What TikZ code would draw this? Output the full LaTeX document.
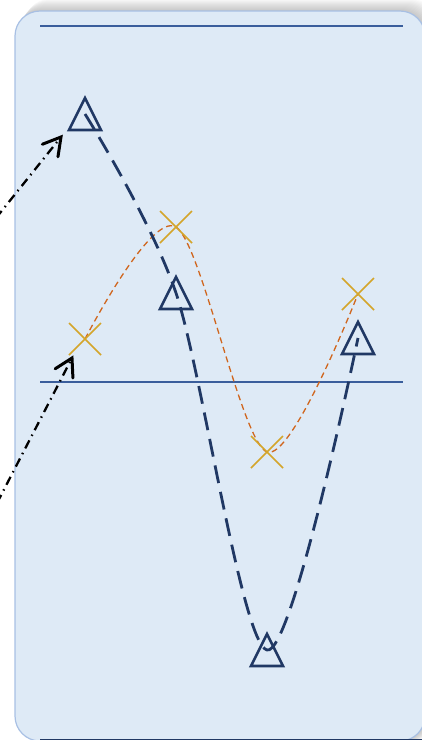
\documentclass[tikz,border=0pt]{standalone}
\usetikzlibrary{arrows.meta,calc}
\definecolor{panelfill}{HTML}{DEEAF6}
\definecolor{panelborder}{HTML}{A8C0E4}
\definecolor{navy}{HTML}{203864}
\definecolor{gridblue}{HTML}{3A5E9C}
\definecolor{orangeline}{HTML}{D0661E}
\definecolor{goldx}{HTML}{D4A52A}
\begin{document}
\begin{tikzpicture}[x=1pt,y=-1pt,
  panel/.style={fill=panelfill,draw=panelborder,line width=1.2pt,rounded corners=25pt},
  gridline/.style={draw=gridblue,line width=1.6pt},
  navyline/.style={draw=navy,line width=2.8pt,dash pattern=on 18pt off 9pt},
  orangecurve/.style={draw=orangeline,line width=1.3pt,dash pattern=on 6pt off 4pt},
  trimark/.style={draw=navy,line width=2.6pt,line join=miter},
  xmark/.style={draw=goldx,line width=1.5pt},
  pointer/.style={draw=black,line width=2.3pt,dash pattern=on 9pt off 5pt on 1.5pt off 5pt},
  pointerhead/.style={draw=black,line width=3pt,solid,line join=miter,line cap=round}
]
\useasboundingbox (0,0) rectangle (422,740);
\clip (0,0) rectangle (422,740);
% soft shadow above the panel
\foreach \k in {1,...,12}{
  \fill[black,opacity=0.018,rounded corners=25pt] (15+\k*0.8,11-\k) rectangle (425+\k,741);
}
% panel
\path[panel] (15,11) rectangle (425,741);
% grid lines
\coordinate (g1l) at (40,26);  \coordinate (g1r) at (403,26);
\coordinate (g2l) at (40,382); \coordinate (g2r) at (403,382);
\coordinate (g3l) at (40,739.5); \coordinate (g3r) at (422,739.5);
\draw[gridline] (g1l) -- (g1r);
\draw[gridline] (g2l) -- (g2r);
\draw[draw=navy,line width=2pt] (g3l) -- (g3r);
% data points
\coordinate (a1) at (85,114);
\coordinate (a2) at (176,293);
\coordinate (a3) at (267,650);
\coordinate (a4) at (358,338);
\coordinate (b1) at (85,339);
\coordinate (b2) at (176,227);
\coordinate (b3) at (267,452);
\coordinate (b4) at (358,294);
% curves
\draw[orangecurve] plot[smooth,tension=0.5] coordinates {(b1) (b2) (b3) (b4)};
\draw[navyline] plot[smooth,tension=0.5] coordinates {(a1) (a2) (a3) (a4)};
% markers
\foreach \p in {b1,b2,b3,b4}{
  \draw[xmark,shift={(\p)}] (-16,-16) -- (16,16) (-16,16) -- (16,-16);
}
\foreach \p in {a1,a2,a3,a4}{
  \draw[trimark,shift={(\p)}] (0,-16) -- (16,16) -- (-16,16) -- cycle;
}
% pointers
\coordinate (s1) at (-4,218);
\coordinate (t1) at (61,137);
\coordinate (s2) at (-3,503);
\coordinate (t2) at (72,358);
\draw[pointer] (s1) -- (t1);
\draw[pointer] (s2) -- (t2);
\draw[pointerhead] ($(t1)!20pt!30:(s1)$) -- (t1) -- ($(t1)!20pt!-30:(s1)$);
\draw[pointerhead] ($(t2)!20pt!30:(s2)$) -- (t2) -- ($(t2)!20pt!-30:(s2)$);
\end{tikzpicture}
\end{document}
